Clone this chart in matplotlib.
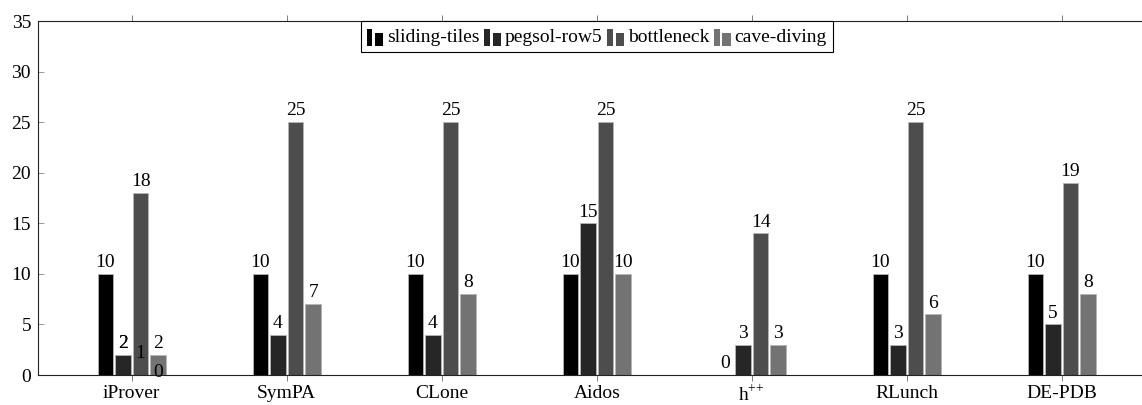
import numpy as np
import matplotlib.pyplot as plt
from matplotlib.patches import Rectangle
from matplotlib.legend_handler import HandlerBase

plt.rcParams['font.family'] = 'Liberation Serif'
plt.rcParams['mathtext.fontset'] = 'custom'
plt.rcParams['mathtext.rm'] = 'Liberation Serif'
plt.rcParams['font.size'] = 14

provers = ['iProver', 'SymPA', 'CLone', 'Aidos', r'h$^{\mathrm{+}\mathrm{+}}$', 'RLunch', 'DE-PDB']
domains = ['sliding-tiles', 'pegsol-row5', 'bottleneck', 'cave-diving']
sliding_tiles = [10, 10, 10, 10, 0, 10, 10]
pegsol_row5 = [2, 4, 4, 15, 3, 3, 5]
bottleneck = [18, 25, 25, 25, 14, 25, 19]
cave_diving = [2, 7, 8, 10, 3, 6, 8]
colors = ['#000000', '#262626', '#4d4d4d', '#737373']

# leftover labels sitting over the iProver group
extra_slot = [1, 2, 3]
extra_text = ['2', '1', '0']
extra_y = [2, 1, -0.9]


class BarIcon(HandlerBase):
    # two small bars, like the pgfplots ybar legend image
    def create_artists(self, legend, orig_handle, xdescent, ydescent,
                       width, height, fontsize, trans):
        c = orig_handle.get_facecolor()
        y0 = -ydescent - 2
        r1 = Rectangle((-xdescent, y0), width * 0.35, height * 1.05,
                       fc=c, ec=c, lw=0, transform=trans)
        r2 = Rectangle((-xdescent + width * 0.5, y0), width * 0.5, height * 0.82,
                       fc=c, ec=c, lw=0, transform=trans)
        return [r1, r2]


fig = plt.figure(figsize=(11.42, 4.05), dpi=100)
ax = fig.add_axes([38 / 1142, 30 / 405, 1117.5 / 1142, 354 / 405])

x = np.arange(len(provers))
pitch = 0.1135
width = 0.099
series = [sliding_tiles, pegsol_row5, bottleneck, cave_diving]
handles = []
for k, vals in enumerate(series):
    bars = ax.bar(x + (k - 1.5) * pitch, vals, width, color=colors[k],
                  edgecolor='#b5b5b5', linewidth=0.6, label=domains[k], zorder=2)
    ax.bar_label(bars, padding=2.0, fontsize=14)
    handles.append(bars)

for s, t, yv in zip(extra_slot, extra_text, extra_y):
    ax.annotate(t, (x[0] + (s - 1.5) * pitch, yv), xytext=(0, 2.0),
                textcoords='offset points', ha='center', va='bottom', fontsize=14,
                annotation_clip=False)

ax.set_xlim(-0.605, 6.605)
ax.set_ylim(0, 35)
ax.set_yticks(np.arange(0, 36, 5))
ax.set_xticks(x)
ax.set_xticklabels(provers)

ax.tick_params(axis='x', which='both', direction='out', length=4, width=0.6,
               color='#666666', top=True, bottom=True, pad=3)
ax.tick_params(axis='y', direction='in', length=4.5, width=0.6, color='#888888',
               left=True, right=False, pad=5)
for sp in ax.spines.values():
    sp.set_linewidth(0.8)
    sp.set_color('#222222')

leg = ax.legend(handles=[h.patches[0] for h in handles], labels=domains,
                handler_map={Rectangle: BarIcon()},
                loc='upper center', bbox_to_anchor=(0.5, 1.0), ncol=4,
                frameon=True, fancybox=False, edgecolor='black', framealpha=1,
                handlelength=0.85, handleheight=0.95, handletextpad=0.2,
                columnspacing=0.25, borderpad=0.3, borderaxespad=0, fontsize=14)
leg.get_frame().set_linewidth(0.8)

fig.savefig('out.png', dpi=100)
